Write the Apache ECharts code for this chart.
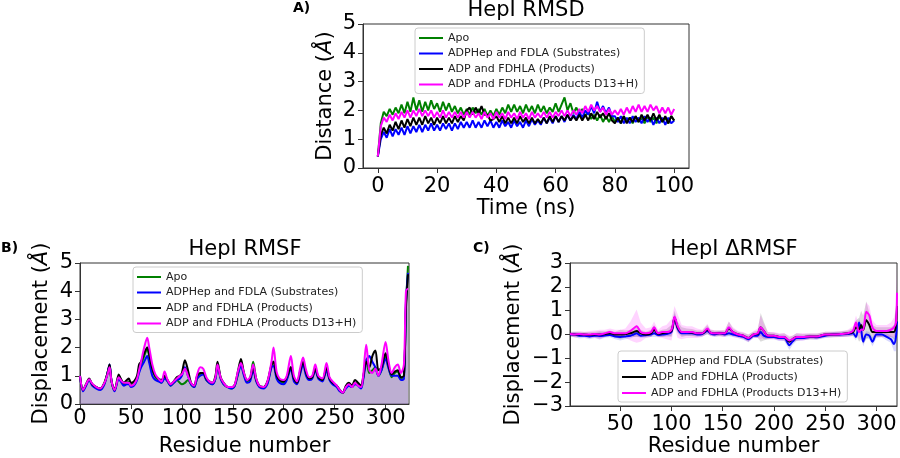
<!DOCTYPE html>
<html>
<head>
<meta charset="utf-8">
<title>HepI RMSD / RMSF / ΔRMSF</title>
<script src="https://cdn.jsdelivr.net/npm/echarts@6/dist/echarts.min.js"></script>
<style>
  html, body { margin: 0; padding: 0; background: #fff; }
  #chart { width: 900px; height: 458px; }
</style>
</head>
<body>
<div id="chart"></div>
<script>
const FONT = 'DejaVu Sans';
const NAMES = ['Apo', 'ADPHep and FDLA (Substrates)', 'ADP and FDHLA (Products)', 'ADP and FDHLA (Products D13+H)'];
const COLORS = ['#008000', '#0000ff', '#000000', '#ff00ff'];

// ---- A) RMSD, one sample per ns (0..100) ----
const TIME_NS = Array.from({length: 101}, (_, i) => i);
const TIME_TICKS = [0, 20, 40, 60, 80, 100];
const APO_RMSD = [0.4,1.55,1.95,1.8,2.05,1.85,2.1,1.9,2.2,1.9,
  2.3,1.95,2.45,2.0,2.35,1.95,2.3,2.0,2.35,2.05,
  2.25,1.95,2.3,2.0,2.25,1.95,2.15,1.9,2.1,1.85,
  2.05,1.85,2.1,1.9,2.05,1.85,2.05,1.8,2.0,1.8,
  2.05,1.85,2.1,1.9,2.2,1.95,2.2,1.95,2.15,1.9,
  2.2,1.95,2.15,1.9,2.2,1.95,2.15,1.9,2.1,1.95,
  2.25,1.95,2.2,2.45,2.0,2.25,1.9,2.1,1.85,2.05,
  1.8,1.95,1.7,1.85,1.65,1.85,1.6,1.8,1.6,1.8,
  1.6,1.75,1.55,1.8,1.6,1.75,1.55,1.8,1.6,1.75,
  1.55,1.8,1.6,1.75,1.55,1.8,1.6,1.75,1.55,1.8,
  1.65];
const SUB_RMSD = [0.4,1.0,1.25,1.05,1.35,1.1,1.35,1.15,1.4,1.15,
  1.45,1.2,1.45,1.25,1.5,1.25,1.5,1.3,1.55,1.3,
  1.5,1.3,1.55,1.35,1.55,1.3,1.55,1.35,1.6,1.4,
  1.6,1.4,1.65,1.4,1.6,1.4,1.65,1.45,1.65,1.4,
  1.6,1.4,1.65,1.45,1.6,1.4,1.65,1.45,1.6,1.4,
  1.65,1.45,1.7,1.5,1.65,1.5,1.75,1.55,1.75,1.55,
  1.8,1.6,1.8,1.6,1.85,1.65,1.85,1.7,1.95,1.75,
  2.0,1.85,2.15,1.9,2.3,1.95,2.15,1.9,2.1,1.8,
  1.8,1.6,1.8,1.55,1.75,1.55,1.8,1.6,1.75,1.55,
  1.8,1.6,1.75,1.5,1.75,1.55,1.75,1.5,1.75,1.55,
  1.65];
const PROD_RMSD = [0.4,1.15,1.4,1.2,1.5,1.3,1.6,1.35,1.65,1.4,
  1.7,1.45,1.75,1.5,1.75,1.5,1.8,1.55,1.75,1.5,
  1.75,1.55,1.8,1.55,1.75,1.55,1.8,1.6,1.8,1.65,
  2.0,2.1,1.85,2.1,1.9,2.15,1.85,1.85,1.65,1.7,
  1.8,1.6,1.8,1.55,1.75,1.55,1.75,1.55,1.8,1.6,
  1.75,1.55,1.75,1.55,1.7,1.55,1.75,1.55,1.8,1.6,
  1.8,1.6,1.8,1.65,1.85,1.65,1.8,1.65,1.85,1.65,
  1.85,1.65,1.9,1.7,1.95,1.75,1.9,1.7,1.9,1.65,
  1.55,1.75,1.55,1.8,1.55,1.75,1.6,1.8,1.6,1.85,
  1.65,1.85,1.65,1.9,1.65,1.85,1.6,1.8,1.55,1.8,
  1.65];
const D13_RMSD = [0.4,1.45,1.75,1.6,1.85,1.65,1.9,1.7,1.95,1.75,
  2.0,1.75,2.0,1.8,2.05,1.8,2.0,1.8,2.0,1.75,
  1.95,1.75,2.0,1.75,1.95,1.75,1.95,1.75,1.95,1.75,
  1.95,1.75,1.95,1.75,1.9,1.7,1.95,1.75,1.9,1.7,
  1.95,1.75,1.9,1.7,1.95,1.75,1.9,1.7,1.95,1.75,
  1.9,1.7,1.95,1.75,1.9,1.75,1.95,1.75,1.95,1.75,
  1.95,1.8,2.0,1.8,2.0,1.8,2.0,1.85,2.05,1.9,
  2.15,1.95,2.2,2.0,2.15,1.95,2.1,1.85,2.05,1.85,
  2.0,1.85,2.05,1.85,2.1,1.9,2.15,1.95,2.2,1.95,
  2.15,1.95,2.2,2.0,2.15,1.9,2.1,1.9,2.1,1.85,
  2.05];

// ---- B) RMSF per residue ----
const RES = [0,3,6,9,12,16,20,24,27,29,
  31,34,38,40,43,46,48,50,53,56,
  58,60,63,66,68,71,74,77,80,83,
  86,89,92,95,98,100,103,106,109,112,
  115,118,121,124,127,130,133,135,138,141,
  145,149,152,155,158,161,164,167,170,173,
  176,180,184,188,190,193,196,200,203,207,
  210,213,216,219,222,225,228,231,234,238,
  242,245,248,252,255,258,261,264,267,270,
  273,276,278,281,284,287,290,293,296,300,
  303,306,309,312,315,318,320,322];
const RES_TICKS = [0, 50, 100, 150, 200, 250, 300];
const APO_RMSF = [1.0,0.5,0.7,0.88,0.7,0.6,0.55,0.75,1.1,1.35,
  0.8,0.5,0.9,0.85,0.7,0.75,0.8,0.7,0.75,0.9,
  1.2,1.4,1.7,1.95,1.7,1.2,0.95,0.85,0.75,0.95,
  0.8,0.65,0.75,0.85,0.75,0.7,0.75,0.85,0.7,0.6,
  0.9,1.05,1.1,0.85,0.75,0.7,0.9,1.4,0.95,0.7,
  0.6,0.55,0.65,1.05,1.45,1.05,0.8,0.9,1.5,0.9,
  0.65,0.6,0.75,1.35,1.5,1.0,0.8,0.75,0.9,1.3,
  0.9,0.75,1.1,1.45,1.1,0.9,0.95,1.25,0.95,0.85,
  1.25,0.9,0.75,0.65,0.5,0.4,0.6,0.7,0.6,0.75,
  0.7,0.6,0.9,1.6,1.1,1.2,1.3,1.0,1.2,1.7,
  1.3,0.95,1.1,1.15,0.9,1.0,3.5,4.9];
const SUB_RMSF = [1.0,0.45,0.65,0.85,0.65,0.55,0.5,0.7,1.1,1.4,
  0.8,0.45,0.9,0.8,0.65,0.7,0.7,0.6,0.65,0.85,
  1.1,1.3,1.5,1.7,1.45,1.0,0.85,0.8,0.75,0.9,
  0.8,0.65,0.75,0.85,0.9,1.0,1.3,1.0,0.7,0.6,
  0.9,1.0,1.05,0.85,0.75,0.7,0.9,1.35,0.9,0.7,
  0.6,0.55,0.65,1.05,1.35,1.0,0.75,0.8,1.2,0.8,
  0.6,0.55,0.7,1.3,1.35,0.9,0.75,0.7,0.85,1.25,
  0.8,0.7,1.05,1.4,1.0,0.85,0.9,1.2,0.9,0.8,
  1.2,0.85,0.7,0.6,0.45,0.4,0.55,0.65,0.6,0.7,
  0.65,0.55,0.85,1.5,1.7,1.5,1.3,1.0,1.2,1.6,
  1.25,1.0,1.0,1.0,0.85,0.9,3.6,4.65];
const PROD_RMSF = [1.0,0.5,0.7,0.9,0.7,0.6,0.55,0.75,1.1,1.4,
  0.8,0.5,1.05,0.9,0.75,0.85,0.9,0.75,0.8,1.0,
  1.4,1.5,1.8,2.0,1.75,1.25,1.0,0.9,0.85,1.0,
  0.85,0.7,0.8,0.95,1.0,1.1,1.55,1.2,0.75,0.65,
  1.0,1.1,1.1,0.9,0.8,0.75,1.0,1.5,0.95,0.75,
  0.6,0.6,0.7,1.15,1.6,1.1,0.85,0.9,1.3,0.85,
  0.65,0.6,0.8,1.4,1.5,1.0,0.85,0.8,0.95,1.3,
  0.9,0.75,1.15,1.5,1.1,0.9,0.95,1.25,0.95,0.85,
  1.3,0.9,0.75,0.65,0.5,0.4,0.65,0.75,0.65,0.85,
  0.75,0.65,0.95,1.5,1.3,1.7,1.9,1.2,1.3,1.8,
  1.35,1.05,1.15,1.2,0.95,1.0,3.4,4.6];
const D13_RMSF = [1.0,0.5,0.7,0.88,0.72,0.6,0.55,0.75,1.05,1.3,
  0.8,0.5,0.95,0.85,0.75,0.75,0.75,0.65,0.7,0.9,
  1.2,1.5,2.0,2.35,2.0,1.4,1.05,0.9,0.8,1.15,
  0.85,0.7,0.8,0.9,1.0,1.05,1.25,1.0,0.75,0.65,
  1.05,1.3,1.25,0.95,0.8,0.75,0.95,1.4,0.95,0.75,
  0.6,0.6,0.7,1.15,1.45,1.1,0.85,0.95,1.4,0.9,
  0.65,0.6,0.8,1.5,2.0,1.15,0.9,0.85,1.0,1.7,
  1.0,0.8,1.25,1.65,1.2,0.95,1.0,1.4,1.0,0.9,
  1.45,0.95,0.8,0.65,0.5,0.4,0.6,0.7,0.6,0.75,
  0.65,0.6,1.0,2.1,1.2,1.1,1.25,1.0,1.4,2.2,
  1.5,1.1,1.3,1.4,1.1,1.4,4.0,4.1];

// ---- C) ΔRMSF (complex - apo), mean and spread ----
const DRES = [1,5,10,15,20,25,30,35,40,45,
  50,55,60,63,66,70,75,80,83,87,
  91,95,100,103,106,110,115,120,125,130,
  135,138,142,147,152,156,160,165,170,175,
  180,184,187,190,194,200,205,210,215,218,
  222,228,235,242,250,258,265,272,277,280,
  283,285,287,290,293,296,300,305,310,314,
  317,319,320];
const DRES_TICKS = [50, 100, 150, 200, 250, 300];
const SUB_DRMSF = [0.0,0.0,-0.05,-0.05,-0.08,-0.05,-0.06,-0.04,-0.02,-0.08,
  -0.1,-0.08,-0.05,0.0,0.05,-0.05,-0.03,0.0,0.05,-0.02,
  0.0,0.02,0.1,0.7,0.25,0.05,0.05,0.05,0.0,0.02,
  0.15,0.05,0.0,0.05,0.0,0.05,0.0,-0.05,-0.1,-0.2,
  -0.05,-0.05,0.1,-0.05,-0.1,-0.1,-0.15,-0.15,-0.45,-0.3,
  -0.15,-0.15,-0.1,-0.12,-0.05,0.0,0.0,0.02,0.05,-0.1,
  0.5,0.2,-0.3,0.0,-0.05,-0.3,0.0,0.0,-0.1,-0.2,
  -0.4,-0.1,0.55];
const SUB_DSD = [0.08,0.1,0.12,0.1,0.12,0.1,0.15,0.1,0.1,0.12,
  0.15,0.12,0.12,0.1,0.12,0.1,0.1,0.1,0.15,0.1,
  0.1,0.1,0.15,0.2,0.15,0.1,0.1,0.1,0.1,0.1,
  0.12,0.1,0.1,0.1,0.1,0.12,0.1,0.1,0.12,0.12,
  0.1,0.1,0.15,0.15,0.1,0.1,0.12,0.12,0.2,0.15,
  0.12,0.1,0.1,0.1,0.1,0.1,0.1,0.1,0.12,0.15,
  0.2,0.2,0.2,0.15,0.15,0.2,0.15,0.12,0.15,0.15,
  0.3,0.6,0.6];
const PROD_DRMSF = [0.02,0.0,0.0,0.0,-0.02,0.0,0.0,0.02,0.05,0.0,
  0.0,0.02,0.05,0.1,0.15,0.05,0.0,0.05,0.2,0.02,
  0.05,0.08,0.15,0.7,0.3,0.1,0.1,0.08,0.05,0.05,
  0.2,0.08,0.05,0.05,0.05,0.25,0.1,0.0,-0.05,-0.15,
  0.0,0.02,0.3,0.15,-0.05,-0.05,-0.1,-0.1,-0.3,-0.2,
  -0.1,-0.1,-0.08,-0.08,0.0,0.0,0.02,0.05,0.1,0.3,
  0.2,0.4,0.2,0.6,0.4,0.1,0.1,0.1,0.1,0.1,
  0.1,0.4,1.2];
const PROD_DSD = [0.1,0.12,0.12,0.1,0.12,0.12,0.15,0.12,0.12,0.12,
  0.2,0.15,0.15,0.2,0.25,0.15,0.12,0.15,0.2,0.12,
  0.15,0.15,0.25,0.3,0.25,0.2,0.15,0.15,0.12,0.12,
  0.2,0.12,0.12,0.12,0.12,0.3,0.15,0.12,0.12,0.15,
  0.12,0.15,0.6,0.4,0.15,0.12,0.12,0.15,0.2,0.15,
  0.15,0.12,0.12,0.12,0.12,0.12,0.12,0.12,0.15,0.3,
  0.5,0.6,0.6,0.8,0.5,0.3,0.2,0.2,0.2,0.2,
  0.3,0.6,1.0];
const D13_DRMSF = [0.02,0.0,0.02,0.0,0.0,0.02,0.0,0.05,0.1,0.05,
  0.05,0.05,0.15,0.25,0.35,0.1,0.05,0.1,0.3,0.05,
  0.1,0.1,0.2,0.75,0.35,0.1,0.1,0.1,0.05,0.05,
  0.25,0.08,0.05,0.05,0.05,0.3,0.1,0.0,-0.05,-0.15,
  0.0,0.05,0.3,0.15,-0.05,-0.05,-0.1,-0.1,-0.25,-0.2,
  -0.1,-0.1,-0.08,-0.08,0.0,0.0,0.02,0.05,0.15,0.5,
  0.1,0.2,0.2,0.95,0.8,0.3,0.15,0.15,0.15,0.2,
  0.3,0.5,1.75];
const D13_DSD = [0.08,0.12,0.12,0.12,0.15,0.15,0.2,0.15,0.15,0.15,
  0.15,0.2,0.4,0.55,0.7,0.4,0.2,0.2,0.25,0.15,
  0.25,0.3,0.45,0.45,0.5,0.3,0.25,0.25,0.2,0.15,
  0.2,0.15,0.12,0.12,0.15,0.25,0.2,0.15,0.15,0.15,
  0.15,0.2,0.5,0.3,0.15,0.15,0.15,0.15,0.2,0.15,
  0.15,0.15,0.12,0.12,0.12,0.12,0.12,0.15,0.2,0.3,
  0.3,0.3,0.3,0.4,0.4,0.3,0.25,0.25,0.25,0.3,
  0.4,0.6,1.2];

function pts(xs, ys) {
  return xs.map((x, i) => [x, ys[i]]);
}
function minusFmt(v) {
  return v < 0 ? '\u2212' + Math.abs(v) : String(v);
}
const nameStyle = {
  color: '#000',
  rich: {
    n: {fontFamily: FONT, fontSize: 21, color: '#000'},
    i: {fontFamily: FONT, fontSize: 21, color: '#000', fontStyle: 'italic'}
  }
};
function xAxisOf(gridIndex, min, max, ticks, margin, name, gap) {
  return {
    type: 'value', gridIndex, min, max,
    axisLine: {show: true, onZero: false, lineStyle: {color: '#333'}},
    axisTick: {show: true, length: 5, customValues: ticks, lineStyle: {color: '#333'}},
    axisLabel: {customValues: ticks, margin, fontFamily: FONT, fontSize: 21, color: '#000'},
    splitLine: {show: false},
    name: '{n|' + name + '}', nameLocation: 'middle', nameGap: gap, nameTextStyle: nameStyle
  };
}
function yAxisOf(gridIndex, min, max, name, gap) {
  return {
    type: 'value', gridIndex, min, max, interval: 1,
    axisLine: {show: true, onZero: false, lineStyle: {color: '#333'}},
    axisTick: {show: true, length: 5, lineStyle: {color: '#333'}},
    axisLabel: {margin: 7, fontFamily: FONT, fontSize: 21, color: '#000', formatter: minusFmt},
    splitLine: {show: false},
    name: '{n|' + name + ' (}{i|Å}{n|)}', nameLocation: 'middle', nameGap: gap, nameTextStyle: nameStyle
  };
}
function legendOf(idx, left, top, gap) {
  return {
    orient: 'vertical', left, top, selectedMode: false,
    icon: 'rect', itemWidth: 24, itemHeight: 2, itemGap: gap,
    padding: [4, 6, 3, 4],
    borderColor: '#cccccc', borderWidth: 1, borderRadius: 3,
    backgroundColor: 'rgba(255,255,255,0.85)',
    textStyle: {fontFamily: FONT, fontSize: 11, color: '#222', lineHeight: 12},
    data: idx.map(k => ({name: NAMES[k], itemStyle: {color: COLORS[k]}}))
  };
}
function lineOf(axis, k, xs, ys, width, smooth) {
  return {
    type: 'line', name: NAMES[k], xAxisIndex: axis, yAxisIndex: axis,
    data: pts(xs, ys), symbol: 'none', smooth: smooth, z: 3,
    lineStyle: {color: COLORS[k], width: width}, itemStyle: {color: COLORS[k]}
  };
}
function areaOf(xs, ys) {
  return {
    type: 'line', xAxisIndex: 1, yAxisIndex: 1, data: pts(xs, ys),
    symbol: 'none', smooth: 0.3, z: 1, silent: true,
    lineStyle: {opacity: 0}, areaStyle: {color: 'rgba(145,121,179,0.2)', opacity: 1}
  };
}
// spread band drawn as one polygon through the axis scales
function bandOf(mean, sd, color) {
  return {
    type: 'custom', xAxisIndex: 2, yAxisIndex: 2, z: 1, silent: true,
    data: [[160, 0]],
    renderItem: function (params, api) {
      const up = DRES.map((x, i) => api.coord([x, mean[i] + sd[i]]));
      const lo = DRES.map((x, i) => api.coord([x, mean[i] - sd[i]])).reverse();
      return {type: 'polygon', shape: {points: up.concat(lo)}, style: {fill: color}};
    }
  };
}

const RMSD = [APO_RMSD, SUB_RMSD, PROD_RMSD, D13_RMSD];
const RMSF = [APO_RMSF, SUB_RMSF, PROD_RMSF, D13_RMSF];

let series = [];
RMSD.forEach((arr, k) => series.push(lineOf(0, k, TIME_NS, arr, 2, false)));
RMSF.forEach(arr => series.push(areaOf(RES, arr)));
RMSF.forEach((arr, k) => series.push(lineOf(1, k, RES, arr, 2, 0.3)));
series.push(bandOf(SUB_DRMSF, SUB_DSD, 'rgba(0,0,255,0.15)'));
series.push(bandOf(PROD_DRMSF, PROD_DSD, 'rgba(0,0,0,0.14)'));
series.push(bandOf(D13_DRMSF, D13_DSD, 'rgba(255,0,255,0.17)'));
series.push(lineOf(2, 1, DRES, SUB_DRMSF, 2, 0.3));
series.push(lineOf(2, 2, DRES, PROD_DRMSF, 2, 0.3));
series.push(lineOf(2, 3, DRES, D13_DRMSF, 2, 0.3));

const frame = {show: true, borderColor: '#333', borderWidth: 1, backgroundColor: 'transparent'};
const txt = (text, x, y, size, bold, align) => ({
  type: 'text', x, y, silent: true,
  style: {text, fontFamily: FONT, fontSize: size, fontWeight: bold ? 'bold' : 'normal',
    fill: '#000', align: align, verticalAlign: 'top'}
});

const chart = echarts.init(document.getElementById('chart'), null, {renderer: 'canvas'});
chart.setOption({
  animation: false,
  backgroundColor: '#fff',
  grid: [
    Object.assign({left: 363, top: 24, width: 326, height: 144}, frame),
    Object.assign({left: 80, top: 263, width: 329, height: 144}, frame),
    Object.assign({left: 570, top: 263, width: 327, height: 143}, frame)
  ],
  xAxis: [
    xAxisOf(0, -5, 105, TIME_TICKS, 8, 'Time (ns)', 28),
    xAxisOf(1, 0, 323, RES_TICKS, 4, 'Residue number', 32),
    xAxisOf(2, 1, 320, DRES_TICKS, 8, 'Residue number', 27)
  ],
  yAxis: [
    yAxisOf(0, 0, 5, 'Distance', 27),
    yAxisOf(1, 0, 5, 'Displacement', 28),
    yAxisOf(2, -3, 3, 'Displacement', 46)
  ],
  legend: [
    legendOf([0, 1, 2, 3], 415, 28, 3.5),
    legendOf([0, 1, 2, 3], 133, 267, 3.5),
    legendOf([1, 2, 3], 618, 351, 4)
  ],
  graphic: [
    txt('HepI RMSD', 526, 0, 21, false, 'center'),
    txt('HepI RMSF', 245, 239, 21, false, 'center'),
    txt('HepI ΔRMSF', 734, 239, 21, false, 'center'),
    txt('A)', 293, 1, 14, true, 'left'),
    txt('B)', 1, 241, 14, true, 'left'),
    txt('C)', 473, 241, 14, true, 'left')
  ],
  series: series
});
</script>
</body>
</html>
